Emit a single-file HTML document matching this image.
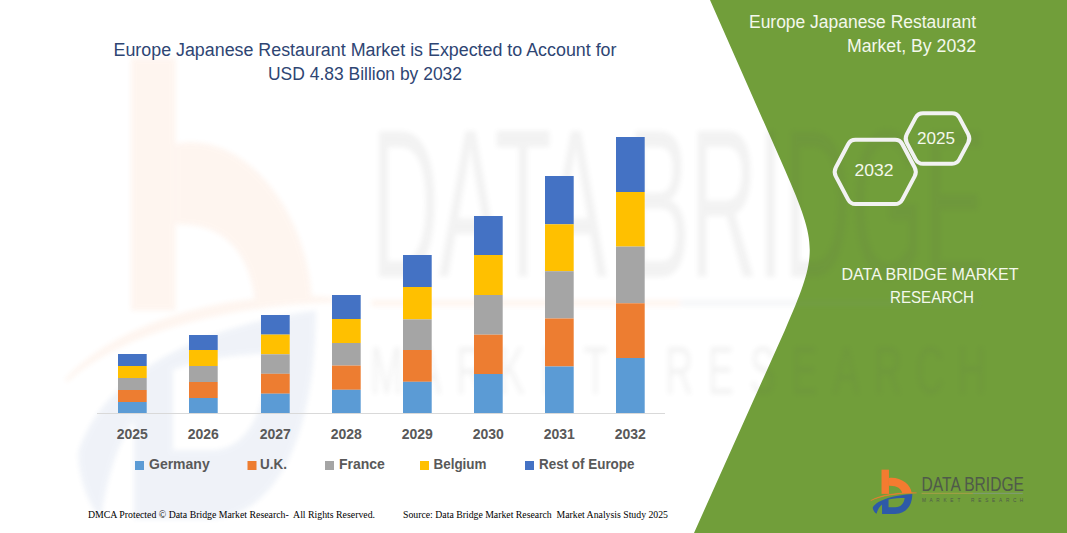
<!DOCTYPE html>
<html><head><meta charset="utf-8"><style>
html,body{margin:0;padding:0;background:#fff;width:1067px;height:533px;overflow:hidden}
svg{display:block}
</style></head><body>
<svg width="1067" height="533" viewBox="0 0 1067 533" font-family="Liberation Sans, sans-serif">
<rect width="1067" height="533" fill="#fff"/>
<path d="M710 0 L785 170 C818 246 818 254 785 330 L694 533 L1067 533 L1067 0 Z" fill="#719E3A"/>
<defs><filter id="bl" x="-10%" y="-10%" width="120%" height="120%"><feGaussianBlur stdDeviation="2.5"/></filter></defs><g opacity="0.07" filter="url(#bl)"><g transform="translate(31.8,9.6) scale(0.62,1.075)">
<rect x="160" y="45" width="72" height="235" fill="#F47B30"/>
<path d="M232,125 C340,112 445,185 452,272 L360,272 C352,228 312,198 232,200 Z" fill="#F47B30"/>
<path d="M55,345 C150,288 330,262 500,270 C330,272 150,296 55,345 Z" fill="#F47B30" stroke="#F47B30" stroke-width="4"/>
<path fill-rule="evenodd" fill="#2E5AA8" d="M75,412 C120,330 300,292 458,280 C458,385 405,470 290,474 L165,474 L165,382 C140,402 122,432 112,472 C90,462 75,432 75,412 Z M228,335 C280,324 340,320 384,320 C377,372 350,408 292,410 L228,410 Z"/>
<text x="548" y="249" font-size="197" fill="#555" textLength="991" lengthAdjust="spacingAndGlyphs">DATA BRIDGE</text>
<rect x="548" y="270" width="498" height="6" fill="#F47B30"/>
<rect x="1046" y="270" width="482" height="6" fill="#7F8FA6"/>
<g font-size="63" fill="#555"><text x="572.0" y="358" text-anchor="middle">M</text><text x="639.4" y="358" text-anchor="middle">A</text><text x="706.9" y="358" text-anchor="middle">R</text><text x="774.3" y="358" text-anchor="middle">K</text><text x="841.7" y="358" text-anchor="middle">E</text><text x="909.1" y="358" text-anchor="middle">T</text><text x="1044.0" y="358" text-anchor="middle">R</text><text x="1111.4" y="358" text-anchor="middle">E</text><text x="1178.9" y="358" text-anchor="middle">S</text><text x="1246.3" y="358" text-anchor="middle">E</text><text x="1313.7" y="358" text-anchor="middle">A</text><text x="1381.1" y="358" text-anchor="middle">R</text><text x="1448.6" y="358" text-anchor="middle">C</text><text x="1516.0" y="358" text-anchor="middle">H</text></g>
</g></g>
<g fill="#2E4573" font-size="18">
<text x="365" y="56" text-anchor="middle" textLength="503" lengthAdjust="spacingAndGlyphs">Europe Japanese Restaurant Market is Expected to Account for</text>
<text x="365" y="80" text-anchor="middle" textLength="194" lengthAdjust="spacingAndGlyphs">USD 4.83 Billion by 2032</text>
</g>
<line x1="97" y1="413.5" x2="665" y2="413.5" stroke="#D9D9D9" stroke-width="1"/>
<rect x="118" y="354" width="28.7" height="12.00" fill="#4472C4"/><rect x="118" y="366" width="28.7" height="12.00" fill="#FFC000"/><rect x="118" y="378" width="28.7" height="12.00" fill="#A5A5A5"/><rect x="118" y="390" width="28.7" height="12.00" fill="#ED7D31"/><rect x="118" y="402" width="28.7" height="11.00" fill="#5B9BD5"/><rect x="189" y="335" width="28.7" height="15.00" fill="#4472C4"/><rect x="189" y="350" width="28.7" height="16.00" fill="#FFC000"/><rect x="189" y="366" width="28.7" height="16.00" fill="#A5A5A5"/><rect x="189" y="382" width="28.7" height="16.00" fill="#ED7D31"/><rect x="189" y="398" width="28.7" height="15.00" fill="#5B9BD5"/><rect x="261" y="315" width="28.7" height="19.60" fill="#4472C4"/><rect x="261" y="334.6" width="28.7" height="19.70" fill="#FFC000"/><rect x="261" y="354.3" width="28.7" height="19.50" fill="#A5A5A5"/><rect x="261" y="373.8" width="28.7" height="19.90" fill="#ED7D31"/><rect x="261" y="393.7" width="28.7" height="19.30" fill="#5B9BD5"/><rect x="332" y="295" width="28.7" height="24.00" fill="#4472C4"/><rect x="332" y="319" width="28.7" height="24.00" fill="#FFC000"/><rect x="332" y="343" width="28.7" height="22.60" fill="#A5A5A5"/><rect x="332" y="365.6" width="28.7" height="24.20" fill="#ED7D31"/><rect x="332" y="389.8" width="28.7" height="23.20" fill="#5B9BD5"/><rect x="403" y="255" width="28.7" height="32.00" fill="#4472C4"/><rect x="403" y="287" width="28.7" height="32.40" fill="#FFC000"/><rect x="403" y="319.4" width="28.7" height="30.60" fill="#A5A5A5"/><rect x="403" y="350" width="28.7" height="31.80" fill="#ED7D31"/><rect x="403" y="381.8" width="28.7" height="31.20" fill="#5B9BD5"/><rect x="474" y="216" width="28.7" height="39.00" fill="#4472C4"/><rect x="474" y="255" width="28.7" height="40.00" fill="#FFC000"/><rect x="474" y="295" width="28.7" height="39.70" fill="#A5A5A5"/><rect x="474" y="334.7" width="28.7" height="39.30" fill="#ED7D31"/><rect x="474" y="374" width="28.7" height="39.00" fill="#5B9BD5"/><rect x="545" y="176" width="28.7" height="48.30" fill="#4472C4"/><rect x="545" y="224.3" width="28.7" height="46.90" fill="#FFC000"/><rect x="545" y="271.2" width="28.7" height="47.30" fill="#A5A5A5"/><rect x="545" y="318.5" width="28.7" height="48.00" fill="#ED7D31"/><rect x="545" y="366.5" width="28.7" height="46.50" fill="#5B9BD5"/><rect x="616" y="137" width="28.7" height="55.00" fill="#4472C4"/><rect x="616" y="192" width="28.7" height="54.60" fill="#FFC000"/><rect x="616" y="246.6" width="28.7" height="56.70" fill="#A5A5A5"/><rect x="616" y="303.3" width="28.7" height="54.70" fill="#ED7D31"/><rect x="616" y="358" width="28.7" height="55.00" fill="#5B9BD5"/>
<g fill="#595959" font-size="14" font-weight="bold"><text x="132.3" y="439" text-anchor="middle">2025</text><text x="203.3" y="439" text-anchor="middle">2026</text><text x="275.3" y="439" text-anchor="middle">2027</text><text x="346.3" y="439" text-anchor="middle">2028</text><text x="417.3" y="439" text-anchor="middle">2029</text><text x="488.3" y="439" text-anchor="middle">2030</text><text x="559.3" y="439" text-anchor="middle">2031</text><text x="630.3" y="439" text-anchor="middle">2032</text></g>
<g font-size="14" font-weight="bold" fill="#595959">
<rect x="135" y="461" width="9" height="9" fill="#5B9BD5"/><text x="149" y="469">Germany</text>
<rect x="247.5" y="461" width="9" height="9" fill="#ED7D31"/><text x="260" y="469" textLength="27" lengthAdjust="spacingAndGlyphs">U.K.</text>
<rect x="325" y="461" width="9" height="9" fill="#A5A5A5"/><text x="339" y="469">France</text>
<rect x="420" y="461" width="9" height="9" fill="#FFC000"/><text x="433.5" y="469" textLength="53" lengthAdjust="spacingAndGlyphs">Belgium</text>
<rect x="525" y="461" width="9" height="9" fill="#4472C4"/><text x="539" y="469" textLength="95.5" lengthAdjust="spacingAndGlyphs">Rest of Europe</text>
</g>
<g font-family="Liberation Serif, serif" font-size="10" fill="#000">
<text x="88" y="518" textLength="287" lengthAdjust="spacingAndGlyphs">DMCA Protected © Data Bridge Market Research-&#160; All Rights Reserved.</text>
<text x="403" y="518" textLength="265" lengthAdjust="spacingAndGlyphs">Source: Data Bridge Market Research&#160; Market Analysis Study 2025</text>
</g>
<g fill="#F4F8EC" font-size="17">
<text font-size="17.5" x="976" y="28" text-anchor="end" textLength="227" lengthAdjust="spacingAndGlyphs">Europe Japanese Restaurant</text>
<text font-size="17.5" x="976" y="52" text-anchor="end" textLength="129" lengthAdjust="spacingAndGlyphs">Market, By 2032</text>
<text x="930" y="280" text-anchor="middle" textLength="177" lengthAdjust="spacingAndGlyphs">DATA BRIDGE MARKET</text>
<text x="932" y="303" text-anchor="middle" textLength="84" lengthAdjust="spacingAndGlyphs">RESEARCH</text>
</g>
<g fill="none" stroke="#F2F2F2" stroke-width="4" stroke-linejoin="round">
<path d="M906.85,142.91 Q904.50,138.50 906.85,134.09 L915.65,117.61 Q918.00,113.20 923.00,113.20 L952.00,113.20 Q957.00,113.20 959.35,117.61 L968.15,134.09 Q970.50,138.50 968.15,142.91 L959.35,159.39 Q957.00,163.80 952.00,163.80 L923.00,163.80 Q918.00,163.80 915.65,159.39 Z"/>
<path d="M835.84,176.37 Q833.50,171.95 835.84,167.53 L848.16,144.22 Q850.50,139.80 855.50,139.80 L895.00,139.80 Q900.00,139.80 902.34,144.22 L914.66,167.53 Q917.00,171.95 914.66,176.37 L902.34,199.68 Q900.00,204.10 895.00,204.10 L855.50,204.10 Q850.50,204.10 848.16,199.68 Z"/>
</g>
<g fill="#F4F8EC" font-size="17">
<text x="936" y="144" text-anchor="middle" textLength="38" lengthAdjust="spacingAndGlyphs">2025</text>
<text x="874" y="176" text-anchor="middle" textLength="39" lengthAdjust="spacingAndGlyphs">2032</text>
</g>
<g transform="translate(865,465) scale(0.10327)">
<rect x="160" y="45" width="72" height="235" fill="#F47B30"/>
<path d="M232,125 C340,112 445,185 452,272 L360,272 C352,228 312,198 232,200 Z" fill="#F47B30"/>
<path d="M55,345 C150,288 330,262 500,270 C330,272 150,296 55,345 Z" fill="#F47B30" stroke="#F47B30" stroke-width="4"/>
<path fill-rule="evenodd" fill="#2E5AA8" d="M75,412 C120,330 300,292 458,280 C458,385 405,470 290,474 L165,474 L165,382 C140,402 122,432 112,472 C90,462 75,432 75,412 Z M228,335 C280,324 340,320 384,320 C377,372 350,408 292,410 L228,410 Z"/>
<text x="548" y="249" font-size="197" fill="#4F5A4A" textLength="991" lengthAdjust="spacingAndGlyphs">DATA BRIDGE</text>
<rect x="548" y="270" width="498" height="6" fill="#C8A050"/>
<rect x="1046" y="270" width="482" height="6" fill="#8A9AA0"/>
<g font-size="46" fill="#4F5A4A"><text x="572.0" y="358" text-anchor="middle">M</text><text x="639.4" y="358" text-anchor="middle">A</text><text x="706.9" y="358" text-anchor="middle">R</text><text x="774.3" y="358" text-anchor="middle">K</text><text x="841.7" y="358" text-anchor="middle">E</text><text x="909.1" y="358" text-anchor="middle">T</text><text x="1044.0" y="358" text-anchor="middle">R</text><text x="1111.4" y="358" text-anchor="middle">E</text><text x="1178.9" y="358" text-anchor="middle">S</text><text x="1246.3" y="358" text-anchor="middle">E</text><text x="1313.7" y="358" text-anchor="middle">A</text><text x="1381.1" y="358" text-anchor="middle">R</text><text x="1448.6" y="358" text-anchor="middle">C</text><text x="1516.0" y="358" text-anchor="middle">H</text></g>
</g>
</svg>
</body></html>
